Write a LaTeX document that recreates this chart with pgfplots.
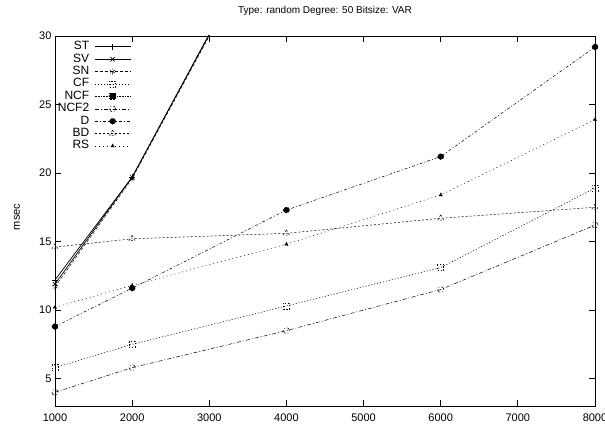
\documentclass[border=0pt]{standalone}
\usepackage{fontspec}
\setmainfont{Liberation Sans}
\usepackage{pgfplots}
\pgfplotsset{compat=1.18}
\begin{document}
\begin{tikzpicture}
\useasboundingbox (-55pt,-17pt) rectangle (550pt,406pt);
\begin{axis}[
    at={(0pt,0pt)}, anchor=south west,
    width=540pt, height=370pt, scale only axis,
    xmin=1000, xmax=8000, ymin=3, ymax=30,
    xtick={1000,2000,...,8000},
    ytick={5,10,...,30},
    tick align=inside,
    major tick length=6pt,
    axis line style={line width=0.8pt},
    every tick/.style={line width=0.8pt, black},
    /pgf/number format/assume math mode=true,
    /pgf/number format/1000 sep={},
    tick label style={font=\fontsize{11}{13}\selectfont},
    xticklabel style={yshift=-4pt},
    title={Type: random Degree: 50 Bitsize: VAR},
    title style={at={(0.5,1)}, anchor=base, yshift=16pt, font=\fontsize{10}{12}\selectfont},
    legend plot pos=right,
    legend cell align=right,
    legend style={at={(axis description cs:0.005,0.988)}, anchor=north west,
        draw=none, fill=none, inner sep=0pt, row sep=0pt, column sep=5pt,
        font=\fontsize{12}{12}\selectfont,
        nodes={inner sep=0pt, text height=9pt, text depth=3.4pt}},
    legend image code/.code={\draw[mark repeat=2, mark phase=2, #1] plot coordinates {(0pt,0pt) (18pt,0pt) (36pt,0pt)};},
    every axis plot/.append style={black, line width=0.5pt, mark size=3pt},
    every mark/.append style={solid},
]

% ST
\addplot[line width=0.7pt, mark=+] coordinates {
    (1000,12.2) (2000,19.7) (4000,40.6)
};
\addlegendentry{ST}

% SV
\addplot[line width=0.7pt, mark=x] coordinates {
    (1000,11.9) (2000,19.7) (4000,40.5)
};
\addlegendentry{SV}

% SN
\addplot[dash pattern=on 3pt off 2pt, mark=asterisk] coordinates {
    (1000,11.7) (2000,19.6) (4000,40.4)
};
\addlegendentry{SN}

% CF
\addplot[dash pattern=on 1.2pt off 1.8pt, mark=square] coordinates {
    (1000,5.8) (2000,7.5) (4000,10.3) (6000,13.1) (8000,18.9)
};
\addlegendentry{CF}

% NCF: off the chart
\addlegendimage{black, line width=0.5pt, dash pattern=on 0.8pt off 0.8pt, mark=square*, mark size=3pt, every mark/.append style={solid}}
\addlegendentry{NCF}

% NCF2
\addplot[dash pattern=on 4pt off 2pt on 1pt off 2pt, mark=o] coordinates {
    (1000,4.0) (2000,5.8) (4000,8.5) (6000,11.5) (8000,16.2)
};
\addlegendentry{NCF2}

% D
\addplot[dash pattern=on 3pt off 2pt on 1pt off 2pt, mark=*] coordinates {
    (1000,8.8) (2000,11.6) (4000,17.3) (6000,21.2) (8000,29.2)
};
\addlegendentry{D}

% BD
\addplot[dash pattern=on 2pt off 2pt, mark=triangle, mark size=3.5pt] coordinates {
    (1000,14.6) (2000,15.2) (4000,15.6) (6000,16.7) (8000,17.5)
};
\addlegendentry{BD}

% RS
\addplot[dash pattern=on 1pt off 3pt, mark=triangle*, mark size=2.2pt] coordinates {
    (1000,10.2) (2000,11.8) (4000,14.8) (6000,18.4) (8000,23.9)
};
\addlegendentry{RS}

\end{axis}
% y axis label
\node[rotate=90, anchor=center, font=\fontsize{11}{13}\selectfont] at (-38pt,189pt) {msec};
\end{tikzpicture}
\end{document}
